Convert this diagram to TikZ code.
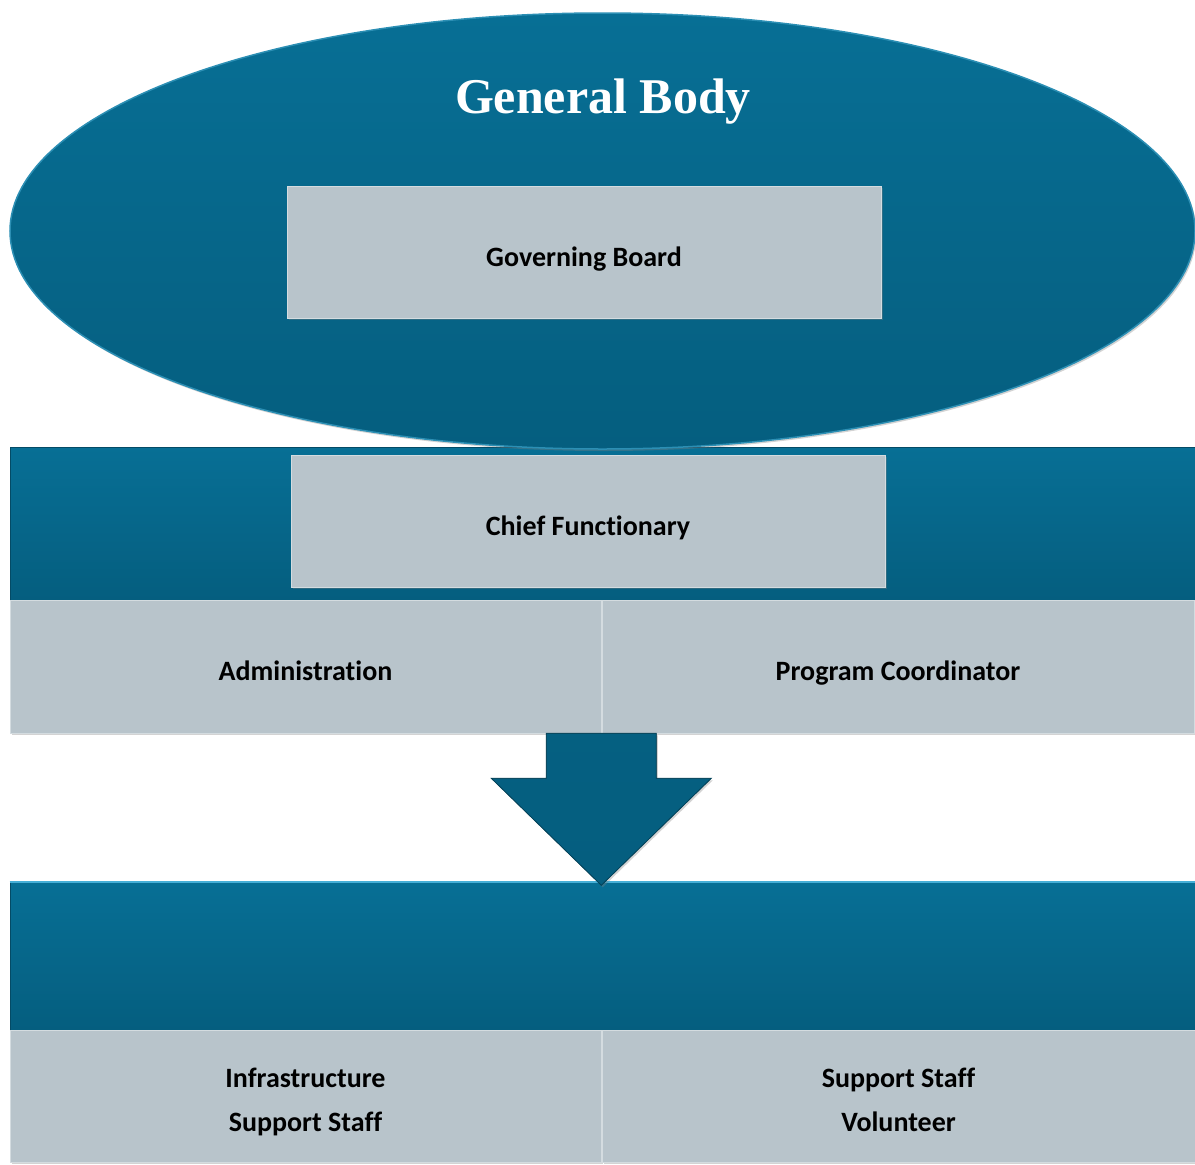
\documentclass[tikz,border=0pt]{standalone}
\usepackage{fontspec}
\setmainfont{Carlito}[Ligatures=NoCommon]
\newfontfamily\titlefont{Liberation Serif}
\usetikzlibrary{shapes.geometric,shadows}

\definecolor{tealtop}{RGB}{7,111,149}
\definecolor{tealbot}{RGB}{5,94,127}
\definecolor{boxgray}{RGB}{184,196,203}
\definecolor{edgecyan}{RGB}{70,175,215}

\tikzset{
  band/.style={top color=tealtop, bottom color=tealbot, draw=tealbot!80!black,
    line width=0.8pt, inner sep=0pt,
    drop shadow={shadow xshift=1.5pt, shadow yshift=-2pt, opacity=0.35}},
  graybox/.style={fill=boxgray, draw=boxgray!60!white, line width=0.6pt,
    inner sep=0pt, align=center, font=\fontsize{28}{44}\selectfont\bfseries,
    text height=28pt, text depth=0pt,
    drop shadow={shadow xshift=1.5pt, shadow yshift=-2pt, opacity=0.35}},
  twoline/.style={text height=70pt}
}

\begin{document}
\begin{tikzpicture}[x=1pt, y=-1pt]
  \useasboundingbox (0,0) rectangle (1195,1165);

  % bands behind the boxes
  \node[band, minimum width=1185, minimum height=153] (topband) at (602.5,523.5) {};
  \node[band, minimum width=1185, minimum height=148] (lowband) at (602.5,956) {};
  \draw[edgecyan, line width=2pt] (lowband.north west) -- (lowband.north east);

  % general body
  \node[band, ellipse, draw=edgecyan!60!tealbot, line width=1.5pt,
    minimum width=1185, minimum height=436] (body) at (602.5,231) {};
  \node[text=white, anchor=base, font=\titlefont\fontsize{50}{52}\selectfont\bfseries] (title) at (603,113) {General Body};

  \node[graybox, minimum width=594, minimum height=132] (board) at (584,252) {Governing Board};
  \node[graybox, minimum width=594, minimum height=132] (chief) at (588,521) {Chief Functionary};

  \node[graybox, minimum width=591, minimum height=133] (admin) at (305.5,666.5) {Administration};
  \node[graybox, minimum width=592, minimum height=133] (prog) at (898,666.5) {Program Coordinator};

  % big arrow down
  \filldraw[top color=tealbot!90!tealtop, bottom color=tealbot, draw=tealbot!70!black, line width=0.8pt,
    drop shadow={shadow xshift=1.5pt, shadow yshift=-2pt, opacity=0.35}]
    (admin.south east) ++(-55,0) -- ++(110,0) -- ++(0,45) -- ++(55,0)
    -- ++(-110,107) -- ++(-110,-107) -- ++(55,0) -- cycle;

  \node[graybox, twoline, minimum width=591, minimum height=132] (infra) at (305.5,1096) {Infrastructure\\Support Staff};
  \node[graybox, twoline, minimum width=593, minimum height=132] (staff) at (898.5,1096) {Support Staff\\Volunteer};
\end{tikzpicture}
\end{document}
